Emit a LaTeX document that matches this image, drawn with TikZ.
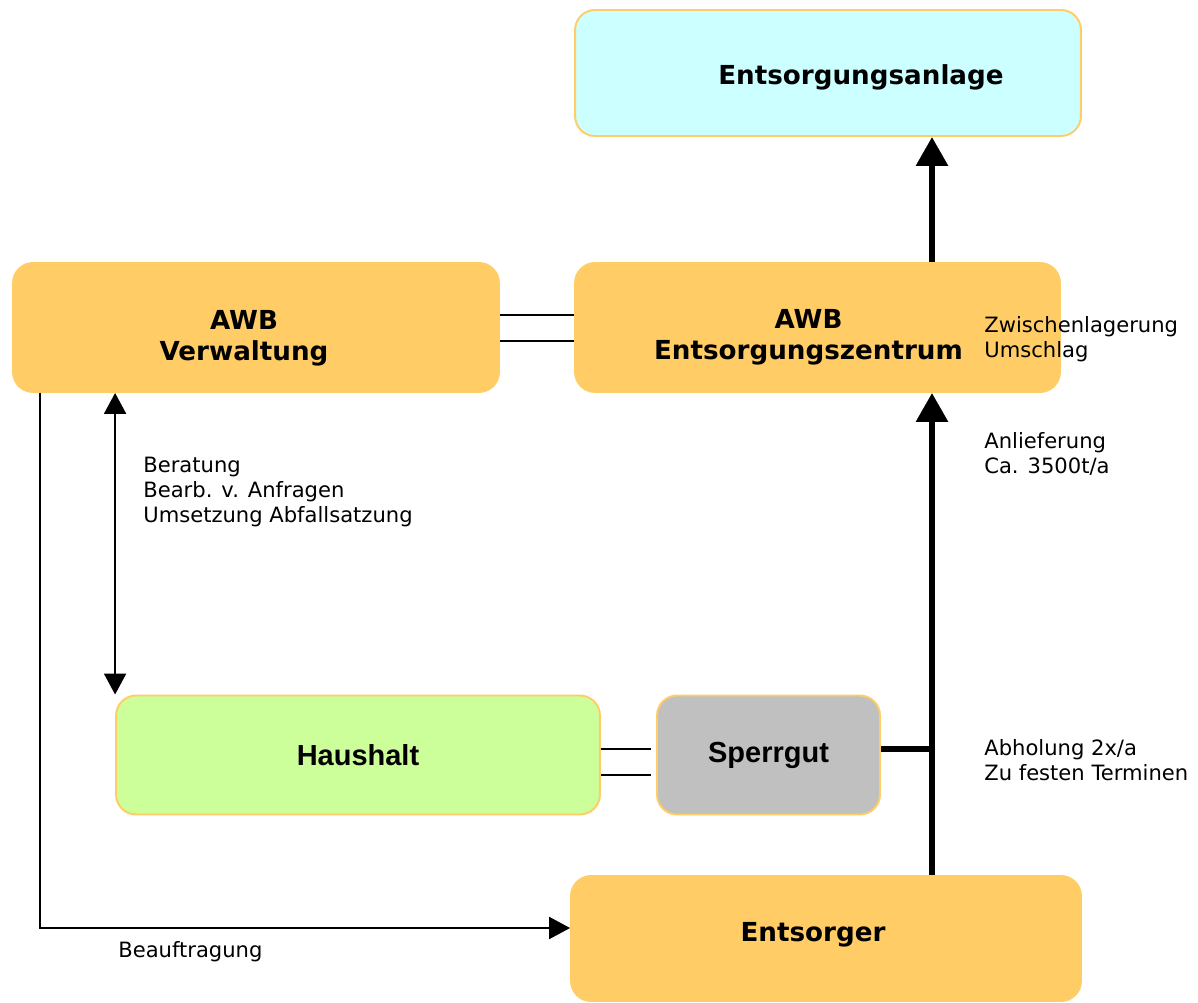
\documentclass[tikz,border=0pt]{standalone}
\usepackage{fontspec}
\setmainfont{DejaVu Sans}
\newfontfamily\arialfont{Liberation Sans}
\usetikzlibrary{arrows.meta}

\definecolor{cOrange}{HTML}{FFCC66}
\definecolor{cCyan}{HTML}{CCFFFF}
\definecolor{cGreen}{HTML}{CCFF99}
\definecolor{cGrey}{HTML}{C0C0C0}

\begin{document}
\begin{tikzpicture}[x=0.02cm,y=-0.02cm,
    box/.style={draw=cOrange,line width=1.1pt,rounded corners=0.4cm,
        inner sep=0pt,align=center,
        font=\fontsize{14.9}{17.6}\selectfont\bfseries},
    boxtext/.style={inner sep=0pt,font=\fontsize{14.9}{17.6}\selectfont\bfseries},
    bigarrow/.style={line width=3.4pt,-{Triangle[width=0.62cm,length=0.58cm]}},
    bigline/.style={line width=3.4pt},
    thinarrow/.style={line width=1.2pt,-{Triangle[width=0.44cm,length=0.42cm]}},
    twoarrow/.style={line width=1.2pt,{Triangle[width=0.44cm,length=0.42cm]}-{Triangle[width=0.44cm,length=0.42cm]}},
    twinline/.style={line width=1.2pt},
    remark/.style={anchor=west,inner sep=0pt,align=left,
        font=\fontsize{12}{14.2}\selectfont}]
\useasboundingbox (0,0) rectangle (1198,1003);

%Kästen
\node[box,fill=cCyan,minimum width=10.12cm,minimum height=2.52cm,
    label={[boxtext,xshift=0.66cm,yshift=-0.08cm]center:Entsorgungsanlage}]
    (anlage) at (828,73) {};
\node[box,fill=cOrange,minimum width=9.72cm,minimum height=2.58cm,
    label={[boxtext,align=center,xshift=-0.24cm,yshift=-0.22cm]center:AWB\\Verwaltung}]
    (verw) at (256,327.5) {};
\node[box,fill=cOrange,minimum width=9.7cm,minimum height=2.58cm,
    label={[boxtext,align=center,xshift=-0.18cm,yshift=-0.2cm]center:AWB\\Entsorgungszentrum}]
    (zentrum) at (817.5,327.5) {};
\node[box,fill=cGreen,minimum width=9.68cm,minimum height=2.38cm,
    font=\arialfont\fontsize{16.5}{19}\selectfont\bfseries]
    (haus) at (358,755) {Haushalt};
\node[box,fill=cGrey,minimum width=4.46cm,minimum height=2.38cm,
    font=\arialfont\fontsize{16.5}{19}\selectfont\bfseries]
    (sperr) at (768.5,755) {Sperrgut};
\node[box,fill=cOrange,minimum width=10.2cm,minimum height=2.5cm,
    label={[boxtext,xshift=-0.26cm,yshift=0.08cm]center:Entsorger}]
    (entsorger) at (826,938.5) {};

\coordinate (cAchse) at (932,0);
\coordinate (cLinks) at (40,0);

%Hauptstrom
\draw[bigarrow] (entsorger.north -| cAchse) -- (zentrum.south -| cAchse);
\draw[bigarrow] (zentrum.north -| cAchse) -- (anlage.south -| cAchse);
\draw[bigline] ([yshift=0.12cm]sperr.east) -- ([yshift=0.12cm]sperr.east -| cAchse);

%Doppellinien
\foreach \dy in {0.25,-0.27}
{
    \draw[twinline] ([yshift=\dy cm]verw.east) -- ([yshift=\dy cm]zentrum.west);
};
\foreach \dy in {0.12,-0.40}
{
    \draw[twinline,shorten >=0.1cm] ([yshift=\dy cm]haus.east) -- ([yshift=\dy cm]sperr.west);
};

\draw[twoarrow] (verw.south -| haus.west) -- (haus.north west);
\draw[thinarrow] (verw.south -| cLinks) |- ([yshift=0.21cm]entsorger.west);

%Beschriftungen
\foreach \n/\x/\y/\t in
{tBeratung/143/492/{Beratung\\Bearb. v. Anfragen\\Umsetzung Abfallsatzung},
    tLager/984/339/{Zwischenlagerung\\Umschlag},
    tAnlief/984/453.5/{Anlieferung\\Ca. 3500t/a},
    tAbhol/984/760/{Abholung 2x/a\\Zu festen Terminen},
    tAuftrag/118/952/{Beauftragung}}
{
    \node[remark] (\n) at (\x,\y) {\t};
};

\end{tikzpicture}
\end{document}
